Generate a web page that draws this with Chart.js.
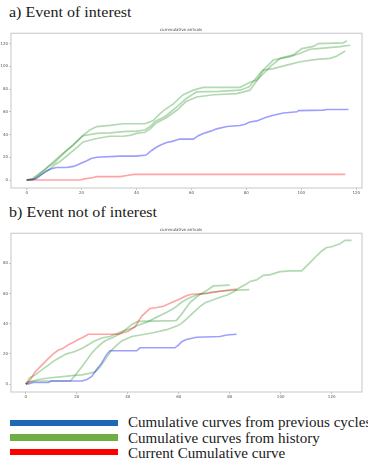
<!DOCTYPE html>
<html>
<head>
<meta charset="utf-8">
<script src="https://cdn.jsdelivr.net/npm/chart.js@4/dist/chart.umd.min.js"></script>
<style>
  html, body { margin: 0; padding: 0; background: #fff; }
  body { width: 368px; height: 466px; position: relative; overflow: hidden;
         font-family: "Liberation Serif", "Times New Roman", serif; color: #1a1a1a; }
  .head { position: absolute; left: 9px; font-size: 15px; line-height: 1; white-space: nowrap;
          transform: scaleX(1.07); transform-origin: left top; }
  canvas { position: absolute; left: 0; }
  .key { position: absolute; left: 10px; width: 108px; height: 6.5px; }
  .keytext { position: absolute; left: 128px; font-size: 14px; line-height: 1; white-space: nowrap;
             transform: scaleX(1.075); transform-origin: left top; }
</style>
</head>
<body>
<div class="head" style="top:5px">a) Event of interest</div>
<canvas id="chartA" width="368" height="170" style="top:26px"></canvas>
<div class="head" style="top:204.5px">b) Event not of interest</div>
<canvas id="chartB" width="368" height="174" style="top:226px"></canvas>

<div class="key" style="top:419.5px;background:#1f68b6"></div>
<div class="keytext" style="top:416px">Cumulative curves from previous cycles</div>
<div class="key" style="top:434px;background:#70ad47"></div>
<div class="keytext" style="top:431.5px">Cumulative curves from history</div>
<div class="key" style="top:448.5px;background:#ff0000"></div>
<div class="keytext" style="top:447px">Current Cumulative curve</div>

<script>
// Panel a) event of interest: cumulative arrivals, [time, count]
const aCurrent = [[0,0],[19.5,0],[21,1],[24,2],[25.5,3],[34,3],[36.5,4],[39,5],[116,5]];
const aPrevious = [[0,0],[2,0],[3.6,1.5],[5.5,5],[7.3,8],[9,10],[10.9,11],[14.6,11],[17,12],[18.2,13],[20,15],
  [21.9,17],[23.5,19],[25.5,20],[34,21],[40,21],[43.5,22],[45.5,26],[47.4,29],[49,31],[51,33],[53,34],
  [55.8,36],[60.7,36],[62.5,39],[64.3,41],[67,43],[69.2,45],[72.9,47],[77.7,48],[79.5,49],[81.3,51],
  [83.8,52],[87,55],[89.8,57],[93.5,59],[98.4,60],[99,61],[108,61.5],[109.3,62],[117.2,62]];
const aHistory1 = [[0,0],[2,1],[4.8,6],[7,10],[9.7,16],[12,21],[14.6,26],[17,31],[19,36],[20.6,39.5],[23,44],
  [25.5,47],[30.3,48],[35.2,49.5],[43,49.5],[46,52],[48,57],[49.8,61],[53.4,67],[57,75],[60.7,79],
  [64.3,81.5],[77.7,81.5],[81.3,86],[83.8,88],[86,93],[88.6,99.5],[92.3,107],[97.1,110],[100.2,115.5],
  [104.4,117.5],[106.2,120],[115.3,120.5],[116.6,122.5]];
const aHistory2 = [[0,0],[2.5,1],[5.5,7],[8,12],[10,15],[12.5,21],[14.6,26],[17,31],[20.6,39],[25.5,41],
  [30.3,41.5],[35.2,42.5],[40,43],[43,44],[45,47],[47,52],[49,54],[51,57],[55,65],[58,71.5],[61.9,77.5],
  [70,78],[77.7,79],[81,82],[85,94],[89.8,105.5],[95.9,108.5],[99.6,111.5],[103.2,115],[108,116],
  [114.1,117.3],[117.8,118.5]];
const aHistory3 = [[0,0],[3,1],[6,6],[8,9],[10,13],[12.5,17],[15,22],[17.5,27],[20.6,33.5],[23,35],[25.5,36.5],
  [30.3,38.5],[35.2,38.5],[38,39.5],[40,41],[43,42],[45,45],[47,50],[51,55],[55,62],[58,69],[61.9,73],
  [68,75],[76.5,76],[79,77.5],[81.3,79],[84,88],[86.2,96.5],[89.8,98],[94.7,101],[99.6,104],[105.6,106],
  [110.5,107],[113,109],[116,113.5]];

// Panel b) event not of interest
const bCurrent = [[0,0],[1.5,2],[3.6,8],[6,12],[8.9,17],[10.8,20],[12.8,22.5],[14.5,23.5],[16.7,26],[18.5,27.5],
  [20.6,29.5],[22.5,31],[24.5,33],[36.3,33],[40.2,35],[42.9,38],[45.5,45],[48.7,50],[51,50.5],[54,51.5],
  [57.9,54.5],[60,56],[63,58.5],[65,59.5],[71,60],[76.2,61.5],[82.7,63]];
const bPrevious = [[0,0],[1,0],[3,1],[8.9,1],[10,2],[22,2],[24,3],[25.9,5],[27.5,9],[29.8,14],[31.5,19],[33,22],
  [43.5,22],[44.8,24],[58.5,24],[60,26],[61.2,28],[63,29.5],[67,31],[76.2,31.5],[78.8,32.5],[82.7,33]];
const bHistory1 = [[0,0],[1.5,4],[3.6,6],[6,9],[8.9,12.5],[10.8,15],[12.8,17],[16,20],[19.3,21.5],[22,23.5],
  [24.5,26],[27,28.5],[29.8,30.5],[33,31.5],[35,33],[38,35],[41.6,37],[44,39],[47.5,41],[51,44],[55.3,47.5],
  [58,50],[61,54],[64,57],[67,59],[73,61],[80,62],[87.7,62.5]];
const bHistory2 = [[0,0],[1,1.5],[5,2],[17.5,2],[19,5],[22,11.5],[24,16],[25.9,20.5],[27.8,24],[29.8,27],
  [31.5,29],[33.7,30.5],[35.5,32],[37.6,34],[39.5,36.5],[41.6,39.5],[44,41.5],[59,42],[61,46],[64.4,54],
  [66.5,57],[68.4,59.5],[71,62],[73.6,65],[80,65.5]];
const bHistory3 = [[0,0],[2,1.5],[4.9,3],[8.9,4],[15.4,5],[18,5.5],[22,6],[25,7],[27.2,8],[29,11],[31.1,16],
  [33.7,22.5],[35.5,25.5],[37.6,28.5],[41.6,31.5],[45,32.5],[50,34],[55.3,36],[59.2,38.5],[61,40],[63,43],
  [65.5,47],[68.4,51.5],[70.5,54],[72.3,55],[76.2,57.5],[79,59],[81.4,61],[84,64],[86.7,66.5],[88,68],
  [90.5,69],[93.2,72],[96,72.5],[99.7,74.5],[104,75],[108.2,75],[110,78],[111.5,80.5],[114.1,85],[116,88],
  [118,90.5],[120,91],[123.3,93],[125.2,95.2],[127.8,95.2]];

const panelTitle = 'cummulative arrivals';

const COLORS = {
  previous: 'rgba(0,0,255,0.38)',
  history: 'rgba(0,128,0,0.30)',
  current: 'rgba(255,0,0,0.36)'
};

const toPoints = arr => arr.map(([x, y]) => ({ x, y }));
const series = (arr, color, width) => ({
  data: toPoints(arr), borderColor: color, borderWidth: width,
  pointRadius: 0, fill: false, tension: 0
});

// light frame around the plotting area
const framePlugin = {
  id: 'frame',
  beforeDatasetsDraw(chart) {
    const { ctx, chartArea: a } = chart;
    ctx.save();
    ctx.strokeStyle = '#d0d0d0';
    ctx.lineWidth = 1.2;
    ctx.strokeRect(a.left, a.top, a.right - a.left, a.bottom - a.top);
    ctx.restore();
  }
};

function axis(min, max, isX) {
  return {
    type: 'linear', min, max,
    border: { display: false },
    grid: { drawOnChartArea: false, drawTicks: true, tickLength: 2, color: '#999', lineWidth: 0.6 },
    ticks: { stepSize: 20, includeBounds: false, padding: 1, color: '#555',
             font: { size: 4, family: 'DejaVu Sans' }, maxRotation: 0, autoSkip: false },
    afterFit(scale) { if (isX) scale.height = 8; else scale.width = 11; }
  };
}

function panel(id, datasets, xr, yr) {
  new Chart(document.getElementById(id), {
    type: 'line',
    data: { datasets },
    options: {
      responsive: false, animation: false, events: [],
      layout: { padding: { left: 0, right: 6, top: 0, bottom: 0 } },
      plugins: {
        legend: { display: false }, tooltip: { enabled: false },
        title: { display: true, text: panelTitle, color: '#444',
                 font: { size: 4, family: 'DejaVu Sans', weight: 'normal' },
                 padding: { top: 1.5, bottom: 1 } }
      },
      scales: { x: axis(xr[0], xr[1], true), y: axis(yr[0], yr[1], false) }
    },
    plugins: [framePlugin]
  });
}

panel('chartA', [
  series(aCurrent, COLORS.current, 1.6),
  series(aPrevious, COLORS.previous, 1.6),
  series(aHistory1, COLORS.history, 1.7),
  series(aHistory2, COLORS.history, 1.7),
  series(aHistory3, COLORS.history, 1.7)
], [-5.7, 122.1], [-7, 129]);

panel('chartB', [
  series(bCurrent, COLORS.current, 1.6),
  series(bPrevious, COLORS.previous, 1.6),
  series(bHistory1, COLORS.history, 1.7),
  series(bHistory2, COLORS.history, 1.7),
  series(bHistory3, COLORS.history, 1.7)
], [-5.8, 131.9], [-5.3, 99.9]);
</script>
</body>
</html>
